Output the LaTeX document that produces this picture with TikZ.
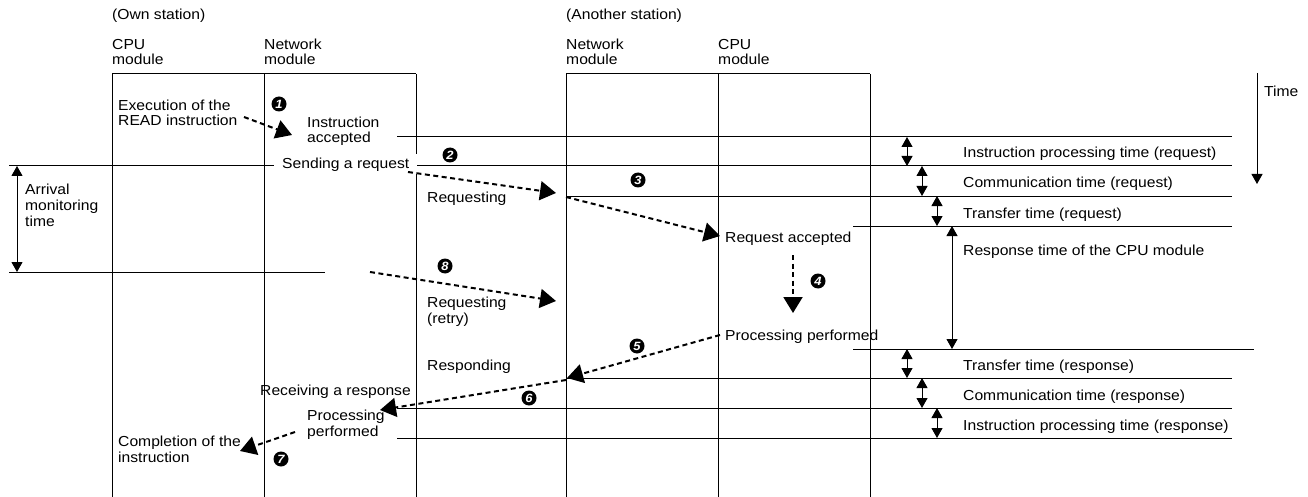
\documentclass[tikz,border=0pt]{standalone}
\usepackage{fontspec}
\setmainfont{Liberation Sans}[FakeStretch=1.08]
\usetikzlibrary{arrows.meta, positioning}
\newcommand\lblfont{\fontsize{14.5}{15.7}\selectfont}
\newcommand\numfont{\fontsize{12}{12}\selectfont\bfseries\itshape}
\tikzset{
        >={Triangle[length=10pt,width=11pt]}, % small filled heads
        tl/.style={line width=1pt}, % time lines and module boxes
        span/.style={<->, line width=1pt}, % time span arrows
        flow/.style={-{Triangle[length=16pt,width=19pt]}, line width=2pt, dash pattern=on 5pt off 3.5pt}, % dashed flow arrows
        lbl/.style={inner sep=0pt, anchor=base west, align=left, font=\lblfont}, % text labels, placed at the last baseline
        stepnum/.style={circle, fill=black, text=white, inner sep=0pt, minimum size=15pt, font=\numfont}, % numbered marks
}

\begin{document}
\begin{tikzpicture}[x=1pt, y=-1pt]
\useasboundingbox (0,0) rectangle (1308,497);
% module boxes
\foreach \x in {112,264,416,566,718,870}
    \draw[tl] (\x,74) -- (\x,497);
\draw[tl] (112,74) -- (416,74) (566,74) -- (870,74);
\node[lbl] (own) at (112,20) {(Own station)};
\node[lbl] (another) at (566,20) {(Another station)};
\node[lbl] (cpua) at (112,65) {CPU\\module};
\node[lbl] (neta) at (264,65) {Network\\module};
\node[lbl] (netb) at (566,65) {Network\\module};
\node[lbl] (cpub) at (718,65) {CPU\\module};
% time lines
\foreach \xa/\xb/\y in {397/1232/137, 9/1232/166, 566/1232/196, 853/1232/226, 9/325/272,
        853/1254/349, 566/1232/378, 397/1232/408, 397/1232/438}
    \draw[tl] (\xa,\y) -- (\xb,\y);
\foreach \x/\ya/\yb in {907/137/166, 922/166/196, 937/196/226, 952/226/349,
        907/349/378, 922/378/408, 937/408/438, 17/166/272}
    \draw[span] (\x,\ya) -- (\x,\yb);
\draw[tl,->] (1257,73) -- (1257,184);
\node[lbl] (time) at (1264,97) {Time};
\foreach \y/\t in {158/Instruction processing time (request), 188/Communication time (request),
        218/Transfer time (request), 255/Response time of the CPU module,
        370/Transfer time (response), 400/Communication time (response),
        430/Instruction processing time (response)}
    \node[lbl] (span\y) at (963,\y) {\t};
\node[lbl] (arrival) at (25,226) {Arrival\\monitoring\\time};
% events
\node[lbl] (exec) at (118,126) {Execution of the\\READ instruction};
\node[lbl] (accepted) at (307,143) {Instruction\\accepted};
\node[lbl, fill=white, inner xsep=8pt, inner ysep=3pt] (sending) at (274,168) {Sending a request};
\node[lbl] (req) at (427,203) {Requesting};
\node[lbl] (reqacc) at (725,242) {Request accepted};
\node[lbl] (procb) at (725,340) {Processing performed};
\node[lbl] (retry) at (427,323) {Requesting\\(retry)};
\node[lbl] (resp) at (427,370) {Responding};
\node[lbl, anchor=base east] (recv) at (411,395) {Receiving a response};
\node[lbl] (proca) at (307,436) {Processing\\performed};
\node[lbl] (done) at (118,462) {Completion of the\\instruction};
\foreach \n/\x/\y in {1/279/104, 2/450/155, 3/638/180, 4/818/281,
        5/637/346, 6/529/398, 7/281/459, 8/445/266}
    \node[stepnum] (n\n) at (\x,\y) {\n};
% flow arrows
\coordinate (s1) at (244,117); \coordinate (e1) at (292,135);
\coordinate (s2) at (408,172); \coordinate (e2) at (556,193);
\coordinate (s3) at (566,197); \coordinate (e3) at (720,236);
\coordinate (s4) at (793,255); \coordinate (e4) at (793,313);
\coordinate (s5) at (720,335); \coordinate (e5) at (567,378);
\coordinate (s6) at (566,380); \coordinate (e6) at (380,410);
\coordinate (s7) at (295,432); \coordinate (e7) at (240,451);
\coordinate (s8) at (370,272); \coordinate (e8) at (556,301);
\foreach \i in {1,...,8}
    \draw[flow] (s\i) -- (e\i);
\end{tikzpicture}
\end{document}
